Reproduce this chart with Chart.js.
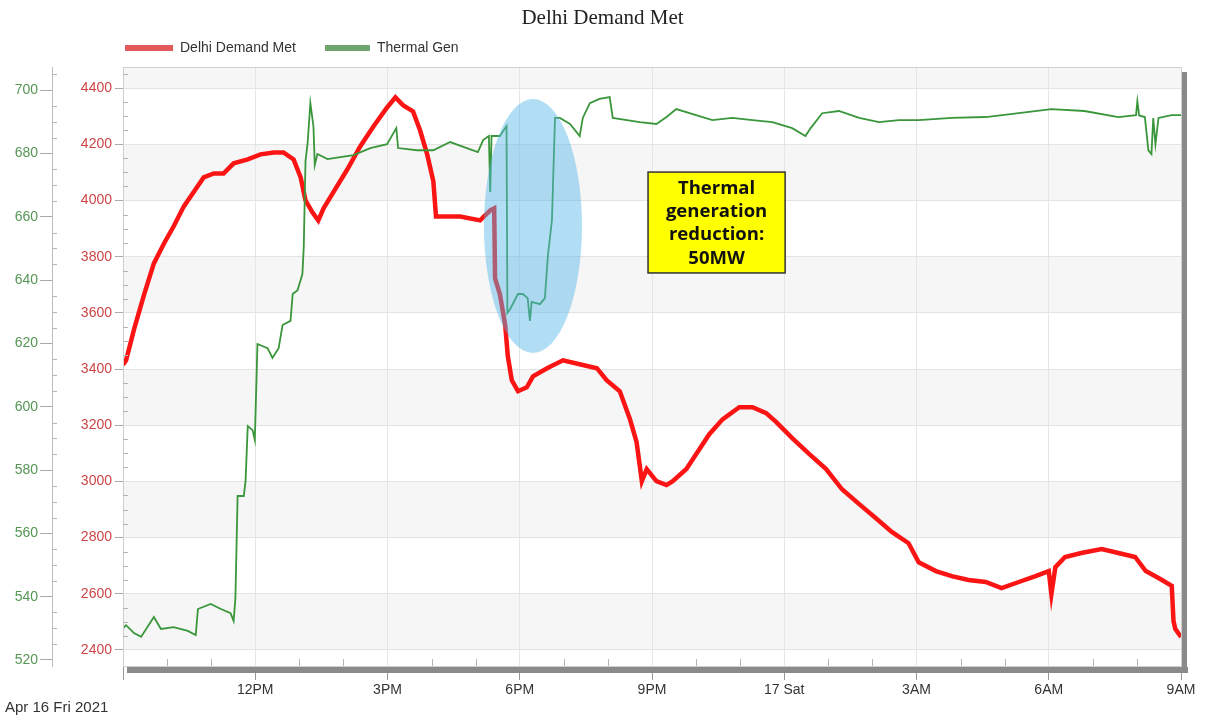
<!DOCTYPE html>
<html><head><meta charset="utf-8">
<script src="https://cdn.jsdelivr.net/npm/chart.js@4.4.1/dist/chart.umd.min.js"></script>
<style>html,body{margin:0;padding:0;background:#fff;}#wrap{width:1205px;height:717px;}</style>
</head><body><div id="wrap"><canvas id="c" width="1205" height="717"></canvas></div>
<script>
// Hours elapsed since 9AM, Apr 16 2021
const demandHours = [0,0.07,0.25,0.48,0.70,0.93,1.15,1.38,1.60,1.83,2.06,2.28,2.51,2.83,3.12,3.42,3.64,3.87,4.03,4.14,4.30,4.43,4.55,4.77,5.09,5.38,5.68,5.99,6.18,6.36,6.58,6.74,6.90,7.04,7.10,7.26,7.65,8.10,8.33,8.42,8.44,8.55,8.67,8.73,8.82,8.96,9.16,9.30,9.62,9.98,10.36,10.75,10.97,11.27,11.50,11.65,11.77,11.88,12.10,12.33,12.47,12.78,13.00,13.30,13.60,13.98,14.28,14.59,14.82,15.18,15.57,15.95,16.31,16.70,17.08,17.44,17.82,18.05,18.44,18.80,19.18,19.57,19.93,20.32,20.70,21.00,21.06,21.15,21.37,21.74,22.20,22.58,22.96,23.20,23.49,23.79,23.83,23.87,24.00];
const demandMW = [3415,3431,3541,3666,3776,3847,3908,3979,4029,4082,4096,4096,4132,4146,4164,4171,4171,4146,4082,4000,3957,3929,3972,4029,4111,4192,4263,4331,4367,4338,4317,4249,4164,4068,3943,3943,3943,3929,3965,3972,3723,3666,3556,3445,3360,3321,3335,3374,3403,3431,3417,3403,3360,3321,3221,3140,3001,3044,3001,2987,3001,3044,3097,3168,3221,3264,3264,3243,3211,3154,3097,3044,2972,2919,2869,2820,2780,2712,2681,2663,2649,2642,2620,2642,2663,2681,2599,2695,2731,2745,2759,2745,2731,2681,2656,2628,2503,2475,2446];
const thermalHours = [0,0.07,0.25,0.41,0.70,0.86,1.15,1.47,1.65,1.70,1.99,2.22,2.44,2.51,2.55,2.60,2.74,2.78,2.83,2.94,2.99,3.05,3.28,3.39,3.53,3.62,3.80,3.85,3.96,4.07,4.10,4.14,4.19,4.25,4.32,4.35,4.41,4.64,4.93,5.23,5.61,5.99,6.20,6.24,6.67,7.04,7.42,7.80,8.05,8.17,8.30,8.33,8.36,8.55,8.67,8.70,8.72,8.78,8.96,9.07,9.18,9.23,9.27,9.46,9.57,9.64,9.73,9.80,9.91,10.14,10.36,10.43,10.59,10.81,11.04,11.11,11.43,11.72,12.10,12.33,12.55,13.00,13.37,13.82,14.28,14.73,15.18,15.48,15.60,15.86,16.24,16.70,17.15,17.60,18.05,18.80,19.57,20.32,21.06,21.81,22.58,22.98,23.01,23.05,23.18,23.26,23.33,23.37,23.42,23.49,23.79,24.00];
const thermalMW = [530,531,528.5,527.3,533.6,529.8,530.4,529.2,527.9,536.1,537.7,536.1,534.8,532.3,539.6,571.8,571.8,576.5,593.9,592.6,589.5,619.8,618.5,615.4,618.5,625.8,627.1,635.6,636.8,641.9,650.4,677.6,683.6,695.9,688.6,676.3,679.8,678.2,678.8,679.5,681.7,682.9,688,681.7,681.0,681.0,683.6,681.7,680.4,684.2,685.5,667.8,685.5,685.5,688.0,688.6,629.6,630.8,635.6,635.6,634.3,627.1,633.1,632.4,634.3,647.9,658.9,691.2,691.2,689.3,685.5,691.2,695.9,697.2,697.8,691.2,690.5,689.9,689.3,691.5,694.0,692.1,690.5,691.2,690.5,689.9,688.0,685.5,688.0,692.7,693.4,691.2,689.9,690.5,690.5,691.2,691.5,692.7,694.0,693.4,691.5,692.1,696.5,692.0,691.5,681,679.8,691.2,682.9,691.2,692.1,692.1];
const xTickHours = [3,6,9,12,15,18,21,24];
const xTickLabels = ['12PM','3PM','6PM','9PM','17 Sat','3AM','6AM','9AM'];
const demandTicks = [2400,2600,2800,3000,3200,3400,3600,3800,4000,4200,4400];
const thermalTicks = [520,540,560,580,600,620,640,660,680,700];
const dateLabel = 'Apr 16 Fri 2021';
const titleText = 'Delhi Demand Met';
const seriesNames = ['Delhi Demand Met','Thermal Gen'];
const noteLines = ['Thermal','generation','reduction:','50MW'];
// annotation anchors in data units (hours, demand MW)
const noteBox = {x0: 11.91, x1: 15.02, yTop: 4101, yBottom: 3742};
const highlight = {x: 9.3, y: 3909};

const FONT = "'Liberation Sans', Arial, sans-serif";
const RED = 'rgb(250,20,20)';
const GREEN = 'rgb(58,150,58)';

const decor = {
  id: 'decor',
  afterLayout(chart){
    if (chart.titleBlock) { chart.titleBlock.left = 0; chart.titleBlock.right = chart.width; chart.titleBlock.width = chart.width; }
  },
  beforeDraw(chart){
    const {ctx, chartArea: a, scales: {y}} = chart;
    ctx.save();
    ctx.fillStyle = '#fff';
    ctx.fillRect(0, 0, chart.width, chart.height);
    ctx.fillStyle = '#f6f6f6';
    for (let v = 2400; v < y.max; v += 400) {
      const top = y.getPixelForValue(Math.min(v + 200, y.max));
      const bot = y.getPixelForValue(v);
      ctx.fillRect(a.left, top, a.right - a.left, bot - top);
    }
    ctx.restore();
  },
  afterDatasetsDraw(chart){
    const {ctx, scales: {x, y}} = chart;
    ctx.save();
    ctx.fillStyle = 'rgba(85,182,232,0.46)';
    ctx.beginPath();
    ctx.ellipse(x.getPixelForValue(highlight.x), y.getPixelForValue(highlight.y), 49, 127, 0, 0, Math.PI * 2);
    ctx.fill();
    const bx0 = x.getPixelForValue(noteBox.x0), bx1 = x.getPixelForValue(noteBox.x1);
    const by0 = y.getPixelForValue(noteBox.yTop), by1 = y.getPixelForValue(noteBox.yBottom);
    ctx.fillStyle = '#ffff00';
    ctx.fillRect(bx0, by0, bx1 - bx0, by1 - by0);
    ctx.strokeStyle = '#333';
    ctx.lineWidth = 1.5;
    ctx.strokeRect(bx0, by0, bx1 - bx0, by1 - by0);
    ctx.fillStyle = '#111';
    ctx.font = "bold 18.5px 'Open Sans', sans-serif";
    ctx.textAlign = 'center';
    ctx.textBaseline = 'middle';
    const cx = (bx0 + bx1) / 2, cy = (by0 + by1) / 2 + 1, lh = 23.4;
    noteLines.forEach((t, i) => ctx.fillText(t, cx, cy + (i - (noteLines.length - 1) / 2) * lh));
    ctx.restore();
  },
  afterDraw(chart){
    const {ctx, chartArea: a, scales: {x, y, y2}} = chart;
    ctx.save();
    ctx.strokeStyle = '#cfcfcf';
    ctx.lineWidth = 1;
    ctx.strokeRect(a.left + 0.5, a.top + 0.5, a.right - a.left, a.bottom - a.top);
    ctx.strokeStyle = '#b5b5b5';
    ctx.beginPath();
    for (let v = 2400; v <= y.max; v += 50) {
      if (v % 200 === 0) continue;
      const p = Math.round(y.getPixelForValue(v)) + 0.5;
      ctx.moveTo(a.left, p); ctx.lineTo(a.left + 5, p);
    }
    for (let v = 520; v <= y2.max; v += 5) {
      if (v % 20 === 0) continue;
      const p = Math.round(y2.getPixelForValue(v)) + 0.5;
      ctx.moveTo(y2.right, p); ctx.lineTo(y2.right + 5, p);
    }
    for (let h = 1; h < 24; h++) {
      if (h % 3 === 0) continue;
      const p = Math.round(x.getPixelForValue(h)) + 0.5;
      ctx.moveTo(p, a.bottom - 7); ctx.lineTo(p, a.bottom);
    }
    ctx.stroke();
    ctx.fillStyle = '#8a8a8a';
    ctx.fillRect(a.right + 1, a.top + 5, 5, a.bottom - a.top + 1);
    ctx.fillRect(a.left + 4, a.bottom + 1, a.right - a.left + 3, 6);
    // legend
    ctx.font = '14px ' + FONT;
    ctx.textBaseline = 'middle';
    ctx.textAlign = 'left';
    let lx = 125;
    const ly = 48;
    chart.data.datasets.forEach((ds, i) => {
      const w = i === 0 ? 48 : 45;
      ctx.fillStyle = i === 0 ? 'rgb(228,90,90)' : 'rgb(110,165,110)';
      ctx.fillRect(lx, ly - 3, w, 6);
      lx += w + 7;
      ctx.fillStyle = '#333';
      ctx.fillText(ds.label, lx, ly);
      lx += ctx.measureText(ds.label).width + 29;
    });
    ctx.font = '15px ' + FONT;
    ctx.fillStyle = '#333';
    ctx.fillText(dateLabel, 5, 708);
    ctx.restore();
  }
};

new Chart(document.getElementById('c'), {
  type: 'line',
  data: {
    datasets: [
      {label: seriesNames[0], yAxisID: 'y', order: 2, borderColor: RED, borderWidth: 4.5,
       data: demandHours.map((h, i) => ({x: h, y: demandMW[i]}))},
      {label: seriesNames[1], yAxisID: 'y2', order: 1, borderColor: GREEN, borderWidth: 1.8,
       data: thermalHours.map((h, i) => ({x: h, y: thermalMW[i]}))}
    ]
  },
  options: {
    responsive: false,
    animation: false,
    devicePixelRatio: 1,
    layout: {padding: {left: 0, right: 24, top: 0, bottom: 0}},
    elements: {point: {radius: 0}, line: {tension: 0}},
    plugins: {
      legend: {display: false},
      tooltip: {enabled: false},
      title: {display: true, text: titleText, color: '#222',
        font: {family: "'Liberation Serif', 'Times New Roman', serif", size: 21, weight: 'normal'},
        padding: {top: 6, bottom: 35.8}}
    },
    scales: {
      x: {
        type: 'linear', min: 0, max: 24,
        afterFit: s => { s.height = 51; },
        afterBuildTicks: s => { s.ticks = [0].concat(xTickHours).map(v => ({value: v})); },
        ticks: {autoSkip: false, maxRotation: 0, padding: 2, color: '#333',
          font: {family: FONT, size: 14},
          callback: v => { const i = xTickHours.indexOf(v); return i >= 0 ? xTickLabels[i] : ''; }},
        grid: {color: c => (c.tick && (c.tick.value === 0 || c.tick.value === 24)) ? 'rgba(0,0,0,0)' : '#e6e6e6',
          tickColor: '#999', tickLength: 14, drawTicks: true},
        border: {display: false}
      },
      y: {
        position: 'left', weight: 0, min: 2343, max: 4475,
        afterFit: s => { s.width = 71; },
        afterBuildTicks: s => { s.ticks = demandTicks.map(v => ({value: v})); },
        ticks: {padding: 3, color: 'rgb(205,70,70)', font: {family: FONT, size: 14},
          callback: v => String(v)},
        grid: {color: '#e3e3e3', tickColor: '#aaa', tickLength: 8},
        border: {display: false}
      },
      y2: {
        position: 'left', weight: 1, min: 518.1, max: 707.3,
        afterFit: s => { s.width = 52; },
        afterBuildTicks: s => { s.ticks = thermalTicks.map(v => ({value: v})); },
        ticks: {padding: 2, color: 'rgb(85,150,85)', font: {family: FONT, size: 14},
          callback: v => String(v)},
        grid: {drawOnChartArea: false, tickColor: '#aaa', tickLength: 12},
        border: {display: true, color: '#bdbdbd'}
      }
    }
  },
  plugins: [decor]
});
</script>
</body></html>
